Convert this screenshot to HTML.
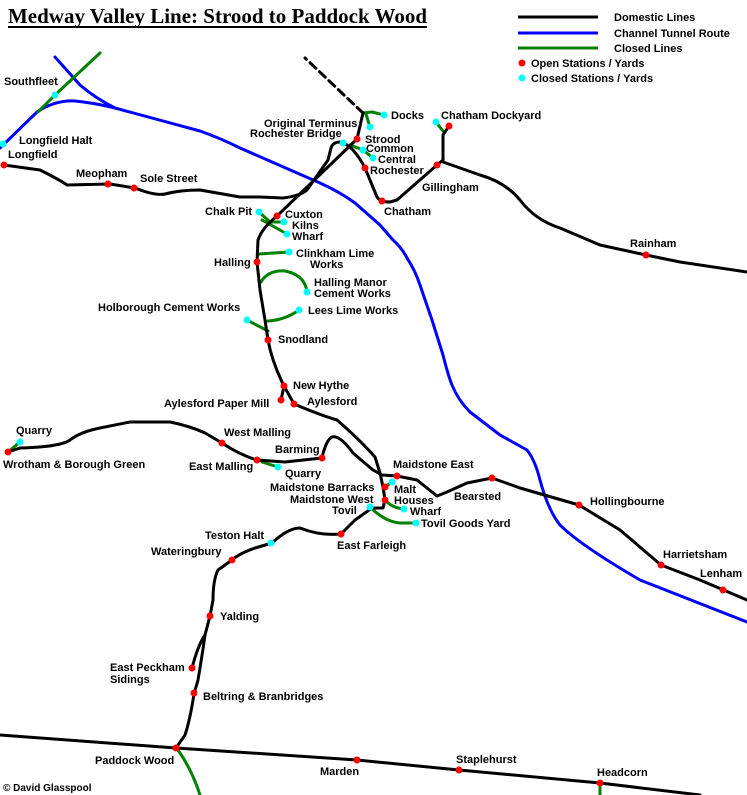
<!DOCTYPE html>
<html><head><meta charset="utf-8"><style>
html,body{margin:0;padding:0;background:#fff;}
svg{display:block}
text{font-family:"Liberation Sans",Arial,sans-serif;font-weight:bold;font-size:11px;fill:#000}
</style></head><body>
<svg width="747" height="795" viewBox="0 0 747 795" xmlns="http://www.w3.org/2000/svg">
<text x="8" y="23" style="font-family:'Liberation Serif',serif;font-size:21px;font-weight:bold" textLength="419" lengthAdjust="spacingAndGlyphs">Medway Valley Line: Strood to Paddock Wood</text>
<rect x="8" y="26" width="419" height="2" fill="#000"/>
<!-- legend -->
<line x1="518" y1="17" x2="598" y2="17" stroke="#000" stroke-width="3"/>
<line x1="518" y1="33" x2="598" y2="33" stroke="#0000ff" stroke-width="3"/>
<line x1="518" y1="48" x2="598" y2="48" stroke="#008000" stroke-width="3"/>
<circle cx="522" cy="63" r="3.5" fill="#f00"/>
<circle cx="522" cy="78" r="3.5" fill="#0ff"/>
<text x="614" y="21">Domestic Lines</text>
<text x="614" y="37">Channel Tunnel Route</text>
<text x="614" y="52">Closed Lines</text>
<text x="531" y="67">Open Stations / Yards</text>
<text x="531" y="82">Closed Stations / Yards</text>

<g fill="none" stroke-linejoin="round" stroke-linecap="round">
<!-- blue -->
<path d="M0,148 L37,112 Q55,100 75,101 Q95,103 115,108 L200,131 Q220,138 240,148 L320,183 Q340,192 355,203 L380,225 L393,240 Q402,248 407,258 Q415,270 420,285 L432,320 L443,355 Q448,375 452,385 Q458,400 470,412 L500,435 L527,450 Q535,460 540,480 Q548,510 560,525 Q580,545 640,580 L747,622" stroke="#0000ff" stroke-width="3"/>
<path d="M55,57 L80,85 Q95,98 115,108" stroke="#0000ff" stroke-width="3"/>
<!-- green -->
<g stroke="#008000" stroke-width="3">
<path d="M100,53 L55,95 L38,112"/>
<path d="M363,113 L372,112 L384,115 M366,114 L370,127"/>
<path d="M350,145 L363,150 L373,158"/>
<path d="M436,122 L443,131"/>
<path d="M259,212 L270,222 L284,222 M262,220 L287,234"/>
<path d="M259,254 L289,252"/>
<path d="M261,282 Q268,270 285,271 Q305,275 307,292"/>
<path d="M268,321 Q285,320 299,310"/>
<path d="M247,320 L268,331"/>
<path d="M8,452 L20,442"/>
<path d="M262,462 L278,467"/>
<path d="M385,487 L392,482"/>
<path d="M385,500 Q392,508 404,509"/>
<path d="M370,507 Q385,522 400,523 L416,523"/>
<path d="M178,750 Q192,770 200,795"/>
<path d="M600,783 L600,795"/>
</g>
<!-- black -->
<g stroke="#000" stroke-width="3">
<path d="M4,165 L40,170 Q60,180 67,185 L110,184 L135,188 Q155,196 165,194 Q180,190 200,190 L240,197 L260,197 L283,198 Q300,196 307,190 L328,160 L331,148 Q333,142 340,142 Q347,144 353,150 Q360,158 365,168 L377,197 Q380,202 390,202 L397,200 L437,165 L443,160 L443,135 L449,126"/>
<path d="M443,162 L480,175 Q505,182 520,200 Q535,220 560,228 L600,245 L646,255 L680,262 L747,272"/>
<path d="M357,139 L363,113"/>
<path d="M363,113 L305,58" stroke-dasharray="8,5"/>
<path d="M357,139 L277,216 Q262,228 258,240 L257,262 L260,290 L265,320 L268,340 Q272,362 284,386 L281,400 M284,386 L294,404 Q320,415 337,420 Q360,440 375,457 L380,473 L383,487 L385,500 L383,508 L372,508 L355,520 L341,534 Q320,536 300,528 Q288,528 272,543 L255,548 Q240,553 232,560 L218,570 Q213,580 213,600 L210,616 L205,635 Q198,645 192,668 M205,635 Q203,650 198,680 L194,694 Q190,720 185,735 L176,748"/>
<path d="M8,452 L20,448 Q60,447 70,440 Q80,432 100,428 L130,422 L170,422 Q190,426 205,433 L222,443 Q240,455 257,460 L285,462 L322,458 Q326,440 332,437 Q340,435 353,453 L373,470 L382,475 L397,476 L417,480 L437,496 L447,492 L467,483 L492,478 L520,488 L579,505 L620,530 L661,565 L700,580 L747,600"/>
<path d="M0,735 L176,748 L357,760 L459,770 L600,783 L700,795"/>
</g>
</g>
<!-- stations -->
<g fill="#f00">
<circle cx="4" cy="165" r="3.5"/><circle cx="108" cy="184" r="3.5"/><circle cx="134" cy="188" r="3.5"/>
<circle cx="357" cy="139" r="3.5"/><circle cx="365" cy="168" r="3.5"/><circle cx="382" cy="201" r="3.5"/>
<circle cx="437" cy="165" r="3.5"/><circle cx="449" cy="126" r="3.5"/><circle cx="646" cy="255" r="3.5"/>
<circle cx="277" cy="216" r="3.5"/><circle cx="257" cy="262" r="3.5"/><circle cx="268" cy="340" r="3.5"/>
<circle cx="284" cy="386" r="3.5"/><circle cx="281" cy="400" r="3.5"/><circle cx="294" cy="404" r="3.5"/>
<circle cx="222" cy="443" r="3.5"/><circle cx="257" cy="460" r="3.5"/><circle cx="322" cy="458" r="3.5"/>
<circle cx="397" cy="476" r="3.5"/><circle cx="385" cy="487" r="3.5"/><circle cx="385" cy="500" r="3.5"/>
<circle cx="492" cy="478" r="3.5"/><circle cx="579" cy="505" r="3.5"/><circle cx="661" cy="565" r="3.5"/>
<circle cx="723" cy="590" r="3.5"/><circle cx="341" cy="534" r="3.5"/><circle cx="232" cy="560" r="3.5"/>
<circle cx="210" cy="616" r="3.5"/><circle cx="192" cy="668" r="3.5"/><circle cx="194" cy="693" r="3.5"/>
<circle cx="176" cy="748" r="3.5"/><circle cx="357" cy="760" r="3.5"/><circle cx="459" cy="770" r="3.5"/>
<circle cx="600" cy="783" r="3.5"/><circle cx="8" cy="452" r="3.5"/>
</g>
<g fill="#0ff">
<circle cx="55" cy="95" r="3.5"/><circle cx="3" cy="144" r="3.5"/><circle cx="384" cy="115" r="3.5"/>
<circle cx="370" cy="127" r="3.5"/><circle cx="343" cy="143" r="3.5"/><circle cx="363" cy="150" r="3.5"/>
<circle cx="373" cy="158" r="3.5"/><circle cx="436" cy="122" r="3.5"/><circle cx="259" cy="212" r="3.5"/>
<circle cx="284" cy="222" r="3.5"/><circle cx="287" cy="234" r="3.5"/><circle cx="289" cy="252" r="3.5"/>
<circle cx="307" cy="292" r="3.5"/><circle cx="299" cy="310" r="3.5"/><circle cx="247" cy="320" r="3.5"/>
<circle cx="20" cy="442" r="3.5"/><circle cx="278" cy="467" r="3.5"/><circle cx="392" cy="482" r="3.5"/>
<circle cx="404" cy="509" r="3.5"/><circle cx="370" cy="507" r="3.5"/><circle cx="416" cy="523" r="3.5"/>
<circle cx="271" cy="543" r="3.5"/>
</g>
<!-- labels -->
<text x="4" y="85">Southfleet</text>
<text x="19" y="144">Longfield Halt</text>
<text x="8" y="158">Longfield</text>
<text x="76" y="177">Meopham</text>
<text x="140" y="182">Sole Street</text>
<text x="391" y="119">Docks</text>
<text x="441" y="119">Chatham Dockyard</text>
<text x="264" y="127">Original Terminus</text>
<text x="250" y="137">Rochester Bridge</text>
<text x="365" y="143">Strood</text>
<text x="366" y="152">Common</text>
<text x="378" y="163">Central</text>
<text x="370" y="174">Rochester</text>
<text x="422" y="191">Gillingham</text>
<text x="384" y="215">Chatham</text>
<text x="630" y="247">Rainham</text>
<text x="205" y="215">Chalk Pit</text>
<text x="285" y="218">Cuxton</text>
<text x="292" y="229">Kilns</text>
<text x="292" y="240">Wharf</text>
<text x="214" y="266">Halling</text>
<text x="296" y="257">Clinkham Lime</text>
<text x="310" y="268">Works</text>
<text x="314" y="286">Halling Manor</text>
<text x="314" y="297">Cement Works</text>
<text x="308" y="314">Lees Lime Works</text>
<text x="98" y="311">Holborough Cement Works</text>
<text x="278" y="343">Snodland</text>
<text x="293" y="389">New Hythe</text>
<text x="164" y="407">Aylesford Paper Mill</text>
<text x="307" y="405">Aylesford</text>
<text x="16" y="434">Quarry</text>
<text x="3" y="468">Wrotham &amp; Borough Green</text>
<text x="224" y="436">West Malling</text>
<text x="275" y="453">Barming</text>
<text x="189" y="470">East Malling</text>
<text x="285" y="477">Quarry</text>
<text x="393" y="468">Maidstone East</text>
<text x="270" y="491">Maidstone Barracks</text>
<text x="290" y="503">Maidstone West</text>
<text x="394" y="493">Malt</text>
<text x="394" y="504">Houses</text>
<text x="454" y="500">Bearsted</text>
<text x="590" y="505">Hollingbourne</text>
<text x="332" y="514">Tovil</text>
<text x="410" y="515">Wharf</text>
<text x="421" y="527">Tovil Goods Yard</text>
<text x="205" y="539">Teston Halt</text>
<text x="337" y="549">East Farleigh</text>
<text x="151" y="555">Wateringbury</text>
<text x="220" y="620">Yalding</text>
<text x="110" y="671">East Peckham</text>
<text x="110" y="683">Sidings</text>
<text x="203" y="700">Beltring &amp; Branbridges</text>
<text x="663" y="558">Harrietsham</text>
<text x="700" y="577">Lenham</text>
<text x="95" y="764">Paddock Wood</text>
<text x="320" y="775">Marden</text>
<text x="456" y="763">Staplehurst</text>
<text x="597" y="776">Headcorn</text>
<text x="3" y="791" style="font-size:10px">© David Glasspool</text>
</svg>
</body></html>
